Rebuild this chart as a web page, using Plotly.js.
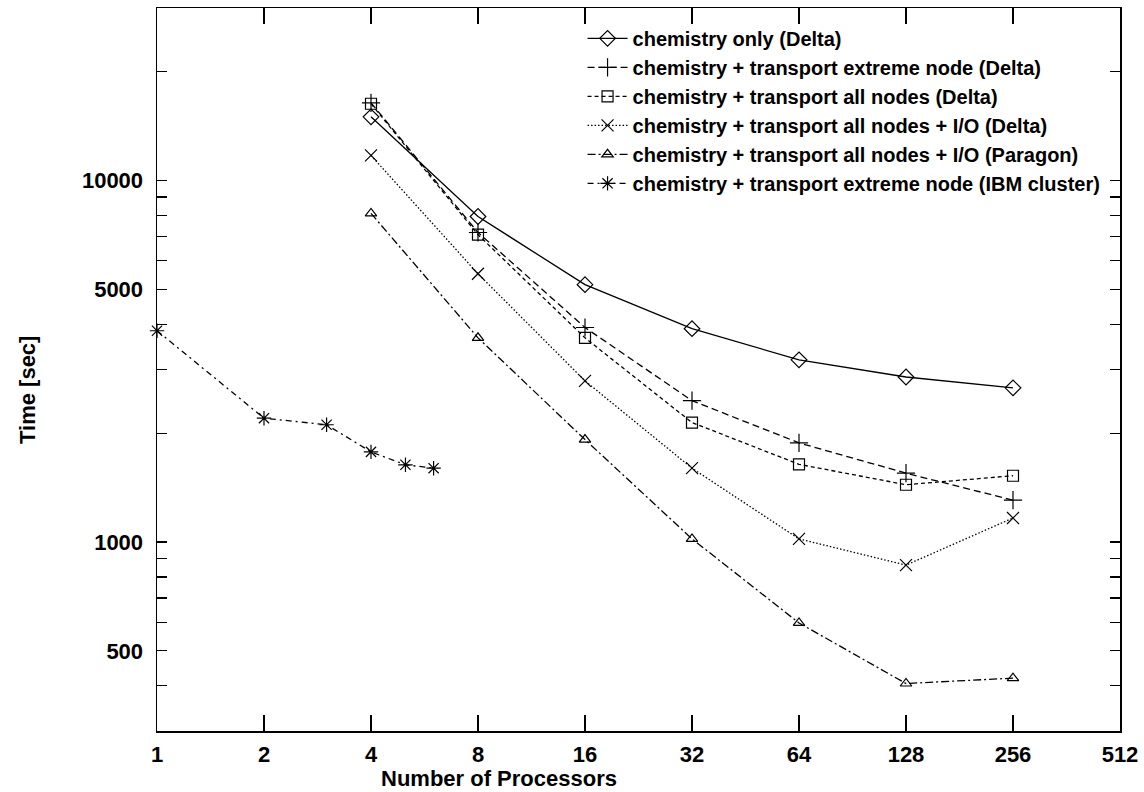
<!DOCTYPE html>
<html>
<head>
<meta charset="utf-8">
<script src="https://cdn.plot.ly/plotly-3.0.1.min.js"></script>
<style>
html,body{margin:0;padding:0;background:#fff;}
#chart{width:1144px;height:792px;}
</style>
</head>
<body>
<div id="chart"></div>
<script>
// ---- data ----
const procs = [4, 8, 16, 32, 64, 128, 256];
const chemOnlyDelta = [15000, 7950, 5150, 3890, 3190, 2860, 2670];
const extremeNodeDelta = [16400, 7180, 3920, 2460, 1880, 1550, 1305];
const allNodesDelta = [16300, 7080, 3670, 2140, 1640, 1440, 1525];
const allNodesIODelta = [11730, 5520, 2790, 1600, 1020, 863, 1165];
const allNodesIOParagon = [8110, 3670, 1920, 1020, 597, 406, 420];
const ibmProcs = [1, 2, 3, 4, 5, 6];
const extremeNodeIBM = [3840, 2200, 2110, 1775, 1635, 1600];

const seriesNames = [
  'chemistry only (Delta)',
  'chemistry + transport extreme node (Delta)',
  'chemistry + transport all nodes (Delta)',
  'chemistry + transport all nodes + I/O (Delta)',
  'chemistry + transport all nodes + I/O (Paragon)',
  'chemistry + transport extreme node (IBM cluster)'
];

const xTickVals = [1, 2, 4, 8, 16, 32, 64, 128, 256, 512];
const xTickText = ['1', '2', '4', '8', '16', '32', '64', '128', '256', '512'];
const yTickVals = [400,500,600,700,800,900,1000,2000,3000,4000,5000,6000,7000,8000,9000,10000,20000];
const yLabelled = [500, 1000, 5000, 10000];

// ---- styling ----
const black = '#000';
function trace(x, y, name, symbol, dash, msize) {
  return {
    x: x, y: y, name: name, type: 'scatter', mode: 'lines+markers',
    line: {color: black, width: 1.3, dash: dash},
    marker: {symbol: symbol, size: msize, color: black, line: {color: black, width: 1.2}},
    cliponaxis: false
  };
}

const data = [
  trace(procs, chemOnlyDelta, seriesNames[0], 'diamond-open', 'solid', 12),
  trace(procs, extremeNodeDelta, seriesNames[1], 'cross-thin-open', '7px,4px', 13),
  trace(procs, allNodesDelta, seriesNames[2], 'square-open', '4px,3px', 11),
  trace(procs, allNodesIODelta, seriesNames[3], 'x-thin-open', '1.5px,2px', 12),
  trace(procs, allNodesIOParagon, seriesNames[4], 'triangle-up-open', '8px,3px,2px,3px', 10),
  trace(ibmProcs, extremeNodeIBM, seriesNames[5], 'asterisk-open', '6px,4px,2px,4px', 12)
];

const tickFont = {family: 'Liberation Sans, Arial, sans-serif', size: 22, color: black, weight: 'bold'};
const titleFont = {family: 'Liberation Sans, Arial, sans-serif', size: 22, color: black, weight: 'bold'};

const layout = {
  width: 1144, height: 792,
  paper_bgcolor: '#fff', plot_bgcolor: '#fff',
  margin: {l: 157, r: 24, t: 8, b: 61},
  showlegend: true,
  legend: {
    x: 0.985, xanchor: 'right', y: 0.985, yanchor: 'top',
    bgcolor: 'rgba(255,255,255,0)', borderwidth: 0,
    font: {family: 'Liberation Sans, Arial, sans-serif', size: 20, color: black, weight: 'bold'},
    itemwidth: 40
  },
  xaxis: {
    type: 'log', range: [0, Math.log10(512)],
    tickmode: 'array', tickvals: xTickVals, ticktext: xTickText,
    ticks: 'inside', ticklen: 16, tickwidth: 1.3, tickcolor: black,
    showline: true, linecolor: black, linewidth: 1.5, mirror: 'ticks',
    showgrid: false, zeroline: false,
    tickfont: tickFont, ticklabelstandoff: 3
  },
  yaxis: {
    type: 'log', range: [Math.log10(300), Math.log10(30000)],
    tickmode: 'array', tickvals: yTickVals,
    ticktext: yTickVals.map(v => yLabelled.includes(v) ? String(v) : ''),
    ticks: 'inside', ticklen: 10, tickwidth: 1.3, tickcolor: black,
    showline: true, linecolor: black, linewidth: 1.5, mirror: 'ticks',
    showgrid: false, zeroline: false,
    tickfont: tickFont, ticklabelstandoff: 8
  },
  annotations: [
    {text: 'Number of Processors', xref: 'paper', yref: 'paper',
     x: (499 - 157) / 963, y: -0.046, xanchor: 'center', yanchor: 'top',
     showarrow: false, font: titleFont},
    {text: 'Time [sec]', xref: 'paper', yref: 'paper',
     x: -0.135, y: (731 - 390) / 723, xanchor: 'center', yanchor: 'middle',
     textangle: -90, showarrow: false, font: titleFont}
  ]
};

Plotly.newPlot('chart', data, layout, {displayModeBar: false, staticPlot: true});
</script>
</body>
</html>
